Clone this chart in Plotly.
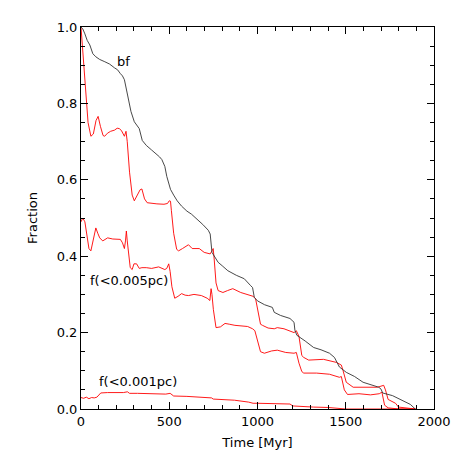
import plotly.graph_objects as go

# bf (black)
t_bf = [0, 10, 22, 35, 50, 67, 84, 106, 135, 162, 190, 207, 223, 235, 246, 263, 283, 302, 318, 330,
        347, 370, 400, 423, 445, 458, 475, 486, 497, 507, 525, 545, 570, 600, 626, 660, 690, 721, 732,
        742, 760, 777, 800, 832, 880, 925, 961, 972, 982, 1000, 1040, 1084, 1095, 1130, 1184, 1207, 1212,
        1223, 1270, 1318, 1360, 1408, 1436, 1464, 1503, 1550, 1598, 1650, 1687, 1700, 1709, 1765, 1821,
        1866, 1894]
f_bf = [1.0, 0.995, 0.982, 0.965, 0.953, 0.93, 0.922, 0.915, 0.909, 0.903, 0.893, 0.888, 0.878, 0.872,
        0.862, 0.823, 0.779, 0.752, 0.74, 0.734, 0.703, 0.69, 0.678, 0.67, 0.66, 0.653, 0.635, 0.609, 0.59,
        0.575, 0.56, 0.545, 0.531, 0.518, 0.51, 0.497, 0.483, 0.468, 0.458, 0.41, 0.395, 0.384, 0.375, 0.362,
        0.35, 0.341, 0.323, 0.318, 0.292, 0.283, 0.273, 0.266, 0.253, 0.245, 0.237, 0.227, 0.206, 0.193,
        0.178, 0.161, 0.155, 0.146, 0.135, 0.11, 0.096, 0.085, 0.07, 0.063, 0.057, 0.052, 0.042, 0.035,
        0.023, 0.012, 0.0]

# upper red curve
t_r1 = [0, 10, 20, 30, 40, 56, 70, 85, 97, 110, 125, 134, 150, 168, 190, 205, 218, 230, 240, 246, 255,
        262, 275, 290, 302, 320, 335, 345, 360, 375, 400, 430, 470, 490, 500, 507, 512, 525, 542, 553, 575,
        598, 609, 630, 670, 698, 732, 742, 749, 755, 765, 777, 804, 830, 860, 905, 944, 961, 975, 989, 1000,
        1017, 1028, 1060, 1095, 1112, 1150, 1207, 1220, 1235, 1251, 1262, 1290, 1335, 1374, 1447, 1475,
        1485, 1503, 1542, 1600, 1680, 1715, 1725, 1740, 1782, 1799, 1855, 1894]
f_r1 = [1.0, 0.93, 0.86, 0.8, 0.75, 0.714, 0.72, 0.755, 0.766, 0.74, 0.716, 0.714, 0.722, 0.727, 0.73,
        0.735, 0.734, 0.728, 0.716, 0.714, 0.727, 0.70, 0.62, 0.56, 0.545, 0.56, 0.574, 0.576, 0.55, 0.54,
        0.538, 0.537, 0.536, 0.538, 0.545, 0.544, 0.52, 0.46, 0.418, 0.414, 0.42, 0.428, 0.43, 0.42, 0.42,
        0.41, 0.406, 0.414, 0.42, 0.39, 0.33, 0.31, 0.305, 0.31, 0.315, 0.305, 0.30, 0.297, 0.295, 0.289,
        0.26, 0.222, 0.219, 0.212, 0.21, 0.213, 0.21, 0.2, 0.205, 0.19, 0.14, 0.135, 0.128, 0.13, 0.13,
        0.122, 0.115, 0.1, 0.07, 0.057, 0.057, 0.057, 0.062, 0.05, 0.025, 0.015, 0.005, 0.003, 0.0]

# f(<0.005pc)
t_r2 = [0, 10, 22, 35, 45, 56, 70, 84, 95, 106, 123, 140, 151, 180, 200, 223, 235, 246, 252, 257, 262,
        270, 279, 290, 300, 315, 330, 345, 370, 400, 440, 475, 486, 497, 505, 515, 531, 550, 570, 590, 609,
        640, 682, 715, 730, 737, 742, 750, 765, 790, 816, 840, 872, 944, 972, 985, 1000, 1017, 1039, 1080,
        1112, 1160, 1207, 1220, 1235, 1251, 1262, 1335, 1408, 1464, 1475, 1485, 1492, 1510, 1575, 1640,
        1690, 1705, 1712, 1720, 1740, 1800, 1894]
f_r2 = [0.49, 0.50, 0.49, 0.45, 0.42, 0.414, 0.44, 0.474, 0.46, 0.448, 0.44, 0.445, 0.448, 0.445, 0.445,
        0.444, 0.435, 0.42, 0.44, 0.466, 0.44, 0.40, 0.37, 0.365, 0.38, 0.38, 0.368, 0.37, 0.37, 0.368,
        0.372, 0.365, 0.368, 0.38, 0.36, 0.32, 0.29, 0.295, 0.302, 0.298, 0.297, 0.3, 0.297, 0.29, 0.284,
        0.315, 0.3, 0.26, 0.213, 0.215, 0.224, 0.222, 0.219, 0.216, 0.21, 0.205, 0.18, 0.15, 0.146, 0.152,
        0.154, 0.148, 0.146, 0.148, 0.12, 0.098, 0.094, 0.094, 0.091, 0.083, 0.085, 0.065, 0.05, 0.038,
        0.04, 0.037, 0.04, 0.044, 0.03, 0.01, 0.003, 0.0, 0.0]

# f(<0.001pc)
t_r3 = [0, 15, 30, 45, 60, 75, 90, 100, 112, 150, 200, 240, 263, 275, 320, 400, 480, 505, 514, 525, 600,
        700, 726, 740, 749, 800, 870, 950, 961, 975, 1000, 1100, 1184, 1200, 1250, 1318, 1400, 1480, 1500,
        1900]
f_r3 = [0.03, 0.028, 0.031, 0.027, 0.03, 0.029, 0.031, 0.036, 0.042, 0.043, 0.042, 0.043, 0.045, 0.041,
        0.041, 0.04, 0.039, 0.041, 0.038, 0.034, 0.033, 0.031, 0.031, 0.029, 0.026, 0.025, 0.023, 0.018,
        0.016, 0.015, 0.015, 0.014, 0.013, 0.008, 0.006, 0.005, 0.004, 0.002, 0.0, 0.0]

x_ticks = [0, 500, 1000, 1500, 2000]
y_ticks = [0.0, 0.2, 0.4, 0.6, 0.8, 1.0]

FONT = "DejaVu Sans"
RED = "#ff0000"

fig = go.Figure()
fig.add_trace(go.Scatter(x=t_r1, y=f_r1, mode="lines", line=dict(color=RED, width=0.9)))
fig.add_trace(go.Scatter(x=t_r2, y=f_r2, mode="lines", line=dict(color=RED, width=0.9)))
fig.add_trace(go.Scatter(x=t_r3, y=f_r3, mode="lines", line=dict(color=RED, width=0.9)))
fig.add_trace(go.Scatter(x=t_bf, y=f_bf, mode="lines", line=dict(color="#333333", width=0.9)))

fig.add_annotation(x=193, y=0.91, text="bf", showarrow=False, xanchor="left", yanchor="middle",
                   font=dict(family=FONT, size=13, color="black"))
fig.add_annotation(x=37, y=0.336, text="f(&lt;0.005pc)", showarrow=False, xanchor="left", yanchor="middle",
                   font=dict(family=FONT, size=13, color="black"))
fig.add_annotation(x=93, y=0.073, text="f(&lt;0.001pc)", showarrow=False, xanchor="left", yanchor="middle",
                   font=dict(family=FONT, size=13, color="black"))

axis_common = dict(showgrid=False, zeroline=False, showline=True, linecolor="black", linewidth=1,
                   mirror="ticks", ticks="inside", ticklen=7, tickcolor="black", tickwidth=1,
                   tickfont=dict(family=FONT, size=13, color="black"))

fig.update_xaxes(range=[0, 2000], tickvals=x_ticks, ticktext=[str(v) for v in x_ticks],
                 minor=dict(dtick=100, ticklen=4, ticks="inside", tickcolor="black"),
                 title=dict(text="Time [Myr]", font=dict(family=FONT, size=13, color="black"), standoff=10),
                 **axis_common)
fig.update_yaxes(range=[0, 1], tickvals=y_ticks, ticktext=[f"{v:.1f}" for v in y_ticks],
                 minor=dict(dtick=0.05, ticklen=4, ticks="inside", tickcolor="black"),
                 title=dict(text="Fraction", font=dict(family=FONT, size=13, color="black"), standoff=16),
                 **axis_common)

# page body has an 8px default margin, so the figure is 455 px and offsets are reduced by 8
fig.update_layout(width=455, height=455, margin=dict(l=73, r=24, t=17, b=54),
                  paper_bgcolor="white", plot_bgcolor="white", showlegend=False,
                  font=dict(family=FONT, size=13, color="black"))

fig.write_html("out.html")
